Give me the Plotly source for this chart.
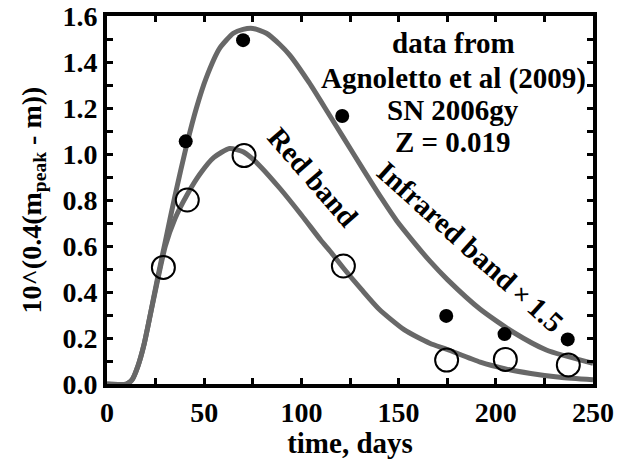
import plotly.graph_objects as go

# Model curves
ir_t = [0, 10, 13, 16, 19, 22, 26, 30, 35, 41, 46, 51, 58, 65, 70, 75, 82, 89, 94, 104, 114, 121, 132, 141, 149, 158, 166, 175, 192, 209, 226, 250]
ir_y = [0, 0, 0.02, 0.08, 0.17, 0.29, 0.46, 0.62, 0.82, 1.04, 1.20, 1.33, 1.46, 1.525, 1.542, 1.546, 1.525, 1.475, 1.43, 1.31, 1.175, 1.08, 0.93, 0.81, 0.71, 0.615, 0.535, 0.455, 0.325, 0.225, 0.148, 0.09]

red_t = [0, 10, 13, 16, 19, 22, 26, 30, 35, 41, 48, 55, 63, 70, 74, 79, 89, 100, 110, 115, 122, 131, 140, 153, 166, 175, 192, 205, 218, 233, 250]
red_y = [0, 0, 0.02, 0.08, 0.17, 0.29, 0.45, 0.60, 0.72, 0.82, 0.915, 0.985, 1.024, 1.01, 0.985, 0.945, 0.85, 0.735, 0.625, 0.575, 0.50, 0.41, 0.325, 0.235, 0.177, 0.15, 0.095, 0.066, 0.046, 0.029, 0.018]

# Data points
ir_pts_t = [40.5, 70, 121, 174.5, 204.5, 237]
ir_pts_y = [1.055, 1.495, 1.165, 0.296, 0.217, 0.194]

red_pts_t = [29, 41.3, 70.5, 121.6, 174.7, 204.9, 237.3]
red_pts_y = [0.507, 0.80, 0.993, 0.513, 0.104, 0.107, 0.083]

x_ticks = [0, 50, 100, 150, 200, 250]
y_ticks = [0.0, 0.2, 0.4, 0.6, 0.8, 1.0, 1.2, 1.4, 1.6]

info_lines = ["data from", "Agnoletto et al (2009)", "SN 2006gy", "Z = 0.019"]
info_y = [1.483, 1.330, 1.191, 1.052]

FONT = "Liberation Serif, Times New Roman, serif"
GRAY = "#686868"

fig = go.Figure()
fig.add_trace(go.Scatter(x=ir_t, y=ir_y, mode="lines", line=dict(color=GRAY, width=5, shape="spline", smoothing=0.6), hoverinfo="skip"))
fig.add_trace(go.Scatter(x=red_t, y=red_y, mode="lines", line=dict(color=GRAY, width=5, shape="spline", smoothing=0.6), hoverinfo="skip"))
fig.add_trace(go.Scatter(x=ir_pts_t, y=ir_pts_y, mode="markers", marker=dict(color="black", size=14, line=dict(width=0)), cliponaxis=False))
fig.add_trace(go.Scatter(x=red_pts_t, y=red_pts_y, mode="markers", marker=dict(color="rgba(0,0,0,0)", size=23, line=dict(color="black", width=2)), cliponaxis=False))

axis_common = dict(
    showgrid=False, zeroline=False, showline=True, linecolor="black", linewidth=4,
    mirror="allticks", ticks="inside", ticklen=6, tickwidth=3, tickcolor="black",
    tickfont=dict(family=FONT, size=28, color="black", weight="bold"),
    automargin=False,
)

fig.update_xaxes(
    range=[0, 250], tickvals=x_ticks, ticktext=[str(v) for v in x_ticks],
    minor=dict(dtick=25, tick0=0, ticks="inside", ticklen=6, tickwidth=3, tickcolor="black"),
    title=dict(text="time, days", font=dict(family=FONT, size=29, color="black", weight="bold"), standoff=2),
    **axis_common,
)
fig.update_yaxes(
    range=[0, 1.6], tickvals=y_ticks, ticktext=[f"{v:.1f}" for v in y_ticks],
    minor=dict(dtick=0.1, tick0=0, ticks="inside", ticklen=6, tickwidth=3, tickcolor="black"),
    title=dict(text="10^(0.4(m<sub>peak</sub> - m))", font=dict(family=FONT, size=28, color="black", weight="bold"), standoff=14),
    **axis_common,
)

afont = dict(family=FONT, size=29, color="black", weight="bold")
for txt, yy in zip(info_lines, info_y):
    fig.add_annotation(x=178, y=yy, xref="x", yref="y", showarrow=False, text=txt, font=afont)
fig.add_annotation(x=106, y=0.90, xref="x", yref="y", showarrow=False, textangle=49,
                   text="Red band", font=afont)
fig.add_annotation(x=187, y=0.595, xref="x", yref="y", showarrow=False, textangle=42,
                   text="Infrared band\u2009<span style='font-size:26px'>×</span>\u20091.5", font=afont)

fig.update_layout(
    width=632, height=459, showlegend=False,
    margin=dict(l=107, r=39, t=16, b=75, autoexpand=False),
    paper_bgcolor="white", plot_bgcolor="white",
)

fig.write_html("out.html")
